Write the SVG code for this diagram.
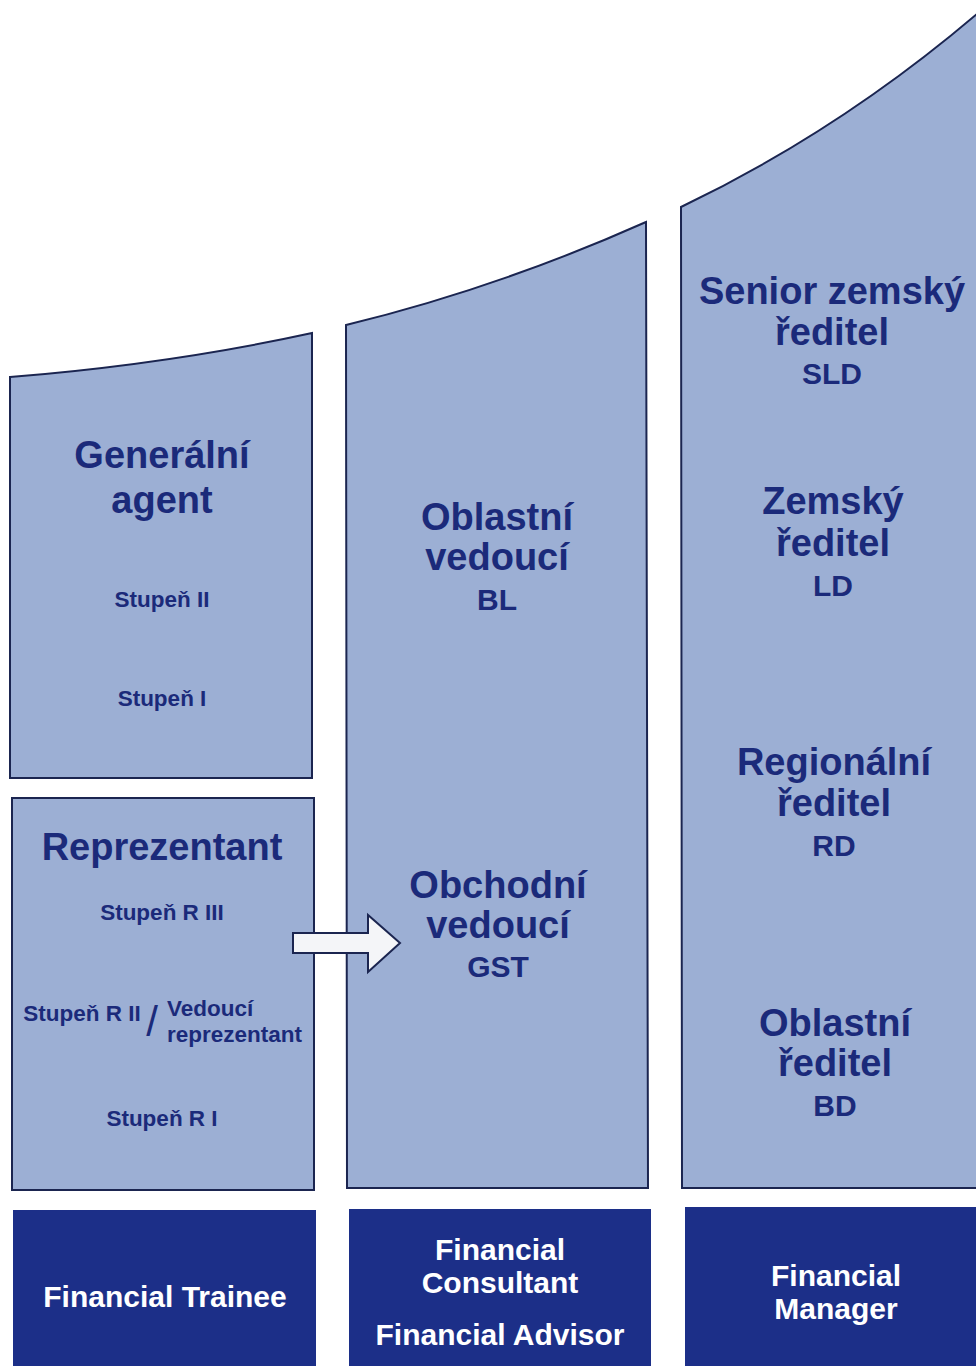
<svg xmlns="http://www.w3.org/2000/svg" width="976" height="1366" viewBox="0 0 976 1366">
<style>
.col{fill:#9cafd4;stroke:#1b2550;stroke-width:2}
.foot{fill:#1c2f88}
.t{font-family:"Liberation Sans",Arial,sans-serif;font-weight:bold;fill:#1b2a7a;text-anchor:middle}
.big{font-size:38px}
.sm{font-size:22.5px}
.ab{font-size:30px}
.w{font-family:"Liberation Sans",Arial,sans-serif;font-weight:bold;fill:#ffffff;text-anchor:middle;font-size:30px}
</style>
<rect width="976" height="1366" fill="#ffffff"/>
<g id="ga">
<path class="col" d="M10,778 L10,377 Q170,364 312,333 L312,778 Z"/>
<text class="t big" x="162" y="468">Generální</text>
<text class="t big" x="162" y="513">agent</text>
<text class="t sm" x="162" y="607">Stupeň II</text>
<text class="t sm" x="162" y="706">Stupeň I</text>
</g>
<g id="rep">
<rect class="col" x="12" y="798" width="302" height="392"/>
<text class="t big" x="162" y="860">Reprezentant</text>
<text class="t sm" x="162" y="920">Stupeň R III</text>
<text class="t sm" x="82" y="1021">Stupeň R II</text>
<text class="t" x="152" y="1036" style="font-size:42px;font-weight:normal">/</text>
<text class="t sm" x="167" y="1016" style="text-anchor:start">Vedoucí</text>
<text class="t sm" x="167" y="1042" style="text-anchor:start">reprezentant</text>
<text class="t sm" x="162" y="1126">Stupeň R I</text>
</g>
<g id="col2">
<path class="col" d="M347,1188 L346,325 Q498,288 646,222 L648,1188 Z"/>
<text class="t big" x="497" y="530">Oblastní</text>
<text class="t big" x="497" y="570">vedoucí</text>
<text class="t ab" x="497" y="610">BL</text>
<text class="t big" x="498" y="898">Obchodní</text>
<text class="t big" x="498" y="938">vedoucí</text>
<text class="t ab" x="498" y="977">GST</text>
</g>
<g id="col3">
<path class="col" d="M682,1188 L681,207 Q839.8,130.8 978,13 L978,1188 Z"/>
<text class="t big" x="832" y="304">Senior zemský</text>
<text class="t big" x="832" y="345">ředitel</text>
<text class="t ab" x="832" y="384">SLD</text>
<text class="t big" x="833" y="514">Zemský</text>
<text class="t big" x="833" y="556">ředitel</text>
<text class="t ab" x="833" y="596">LD</text>
<text class="t big" x="834" y="775">Regionální</text>
<text class="t big" x="834" y="816">ředitel</text>
<text class="t ab" x="834" y="856">RD</text>
<text class="t big" x="835" y="1036">Oblastní</text>
<text class="t big" x="835" y="1076">ředitel</text>
<text class="t ab" x="835" y="1116">BD</text>
</g>
<g id="connectors">
<path d="M293,933 L368,933 L368,915 L400,943 L368,972 L368,953 L293,953 Z" fill="#f4f5f8" stroke="#1b2550" stroke-width="2"/>
</g>
<g id="ft">
<rect class="foot" x="13" y="1210" width="303" height="156"/>
<text class="w" x="165" y="1307">Financial Trainee</text>
</g>
<g id="fc">
<rect class="foot" x="349" y="1209" width="302" height="157"/>
<text class="w" x="500" y="1260">Financial</text>
<text class="w" x="500" y="1293">Consultant</text>
<text class="w" x="500" y="1345">Financial Advisor</text>
</g>
<g id="fm">
<rect class="foot" x="685" y="1207" width="291" height="159"/>
<text class="w" x="836" y="1286">Financial</text>
<text class="w" x="836" y="1319">Manager</text>
</g>
</svg>
